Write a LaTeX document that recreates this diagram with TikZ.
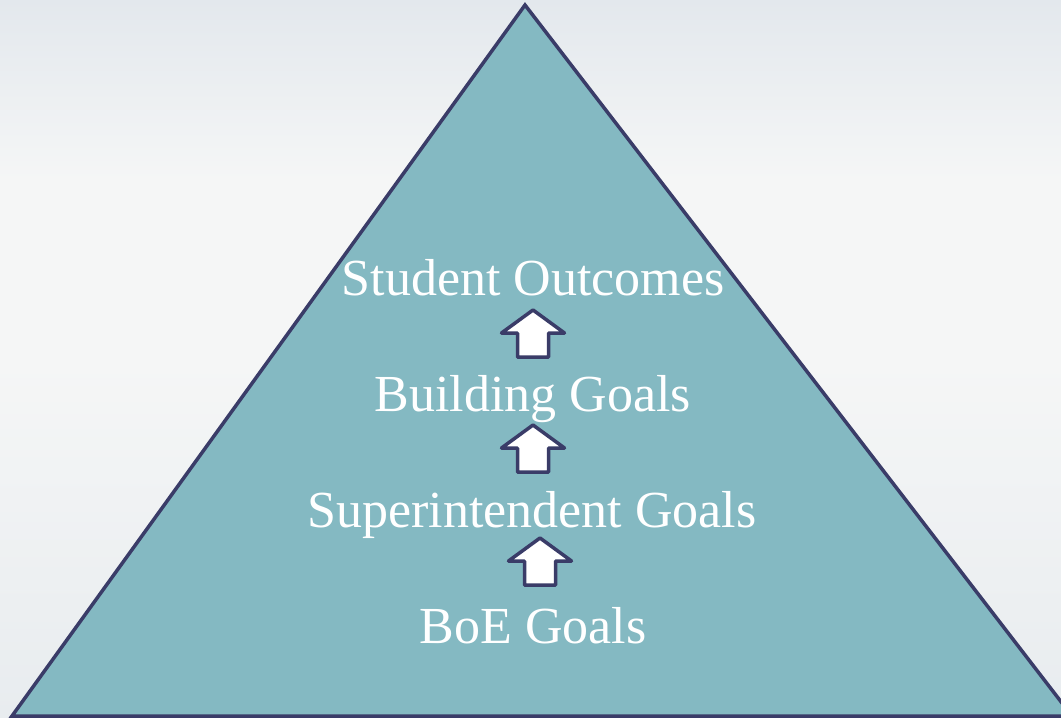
\documentclass[tikz,border=0pt]{standalone}
\usepackage{fontspec}
\setmainfont{Liberation Serif}
\definecolor{bgtop}{HTML}{E3E8ED}
\definecolor{bgmid}{HTML}{F5F6F6}
\definecolor{bgbot}{HTML}{E8ECEF}
\definecolor{tealfill}{HTML}{84B9C2}
\definecolor{navyline}{HTML}{3A3C68}
\tikzset{
  lbl/.style={anchor=base, text=white, font=\fontsize{52}{58}\selectfont, inner sep=0pt},
  uparrow/.pic={\draw[line width=3.5pt, draw=navyline, fill=white, line join=round]
    (0,0) -- (31.5,23) -- (15.5,23) -- (15.5,47) -- (-15.5,47) -- (-15.5,23) -- (-31.5,23) -- cycle;}
}
\begin{document}
\begin{tikzpicture}[x=1pt,y=-1pt]
\useasboundingbox (0,0) rectangle (1061,718);
\begin{scope}
\clip (0,0) rectangle (1061,718);
\shade[top color=bgtop, bottom color=bgmid, middle color=bgmid] (0,0) rectangle (1061,360);
\shade[top color=bgmid, bottom color=bgbot] (0,360) rectangle (1061,718);
\draw[line width=3.5pt, draw=navyline, fill=tealfill, line join=miter]
  (525,5) -- (1072,716) -- (12,716) -- cycle;
\end{scope}
\node[lbl] (so) at (533,295) {Student Outcomes};
\node[lbl] (bg) at (533,411) {Building Goals};
\node[lbl] (sg) at (532,527) {Superintendent Goals};
\node[lbl] (boe) at (533,643) {BoE Goals};
\coordinate (a1) at (533,310);
\coordinate (a2) at (533,425);
\coordinate (a3) at (540,538);
\pic at (a1) {uparrow};
\pic at (a2) {uparrow};
\pic at (a3) {uparrow};
\end{tikzpicture}
\end{document}
